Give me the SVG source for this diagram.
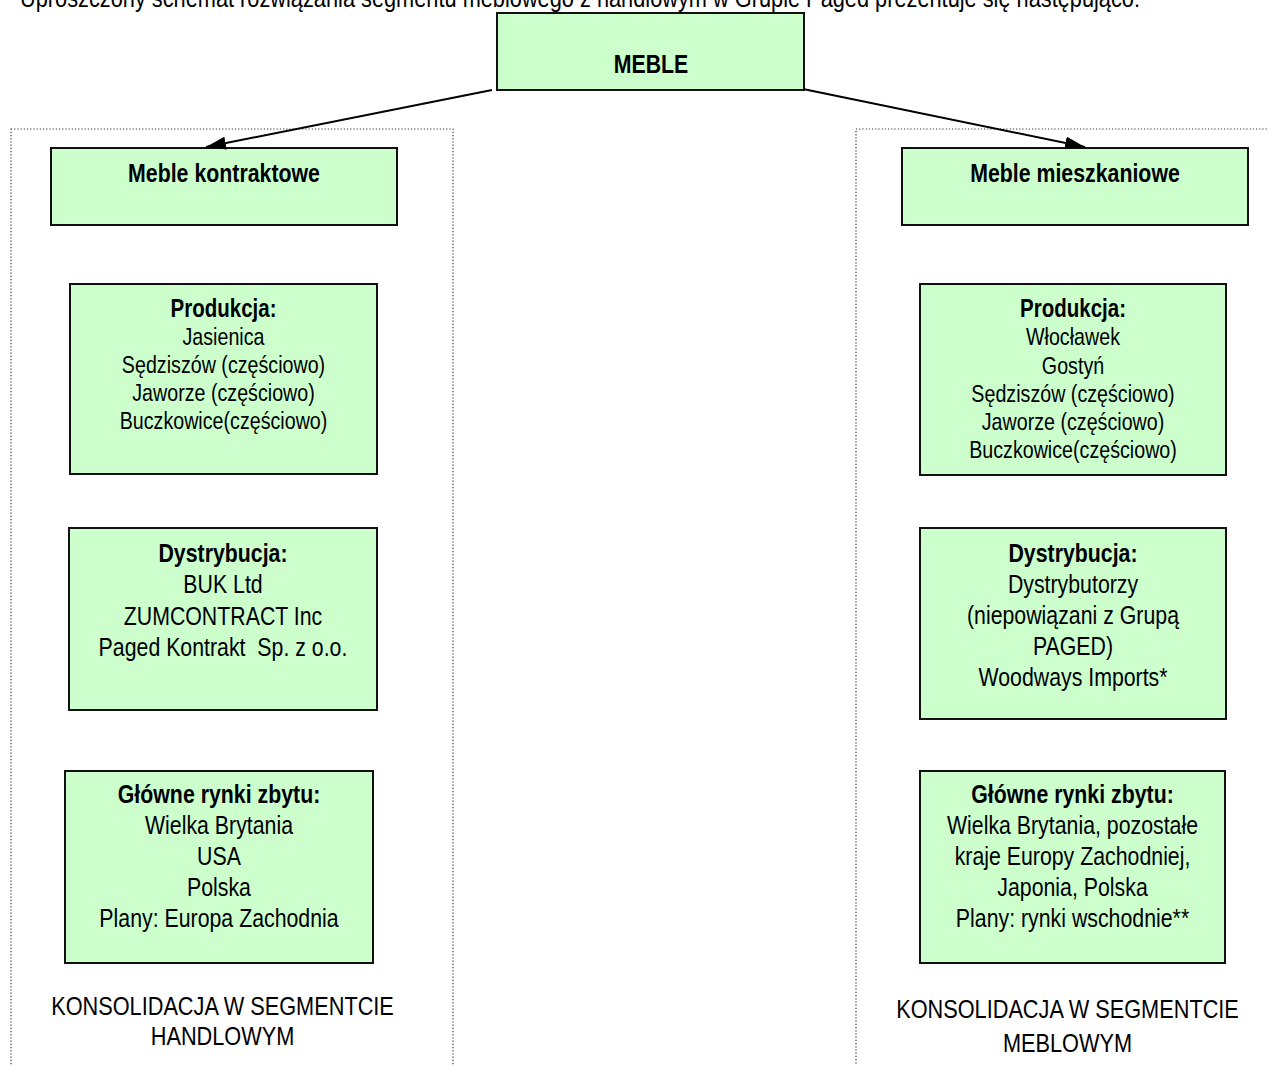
<svg xmlns="http://www.w3.org/2000/svg" width="1268" height="1065" viewBox="0 0 1268 1065">
<style>
text{font-family:"Liberation Sans",Arial,sans-serif;fill:#000;text-anchor:middle}
.b{font-weight:bold}
.box{fill:#ccffcc;stroke:#111;stroke-width:2}
.cont{fill:none;stroke:#333;stroke-width:1.2;stroke-dasharray:1.2 2}
.s24{font-size:24px}
.s26{font-size:26px}
.s265{font-size:26.5px}
.conn{stroke:#000;stroke-width:2;fill:none}
</style>
<defs>
<marker id="ah" viewBox="0 0 20 13" refX="20" refY="6.5" markerWidth="20" markerHeight="13" markerUnits="userSpaceOnUse" orient="auto">
<path d="M0,0 L20,6.5 L0,13 z" fill="#000"/>
</marker>
</defs>
<rect width="1268" height="1065" fill="#fff"/>
<text x="580" y="7" style="font-size:25px" textLength="1120" lengthAdjust="spacingAndGlyphs">Uproszczony schemat rozwiązania segmentu meblowego z handlowym w Grupie Paged prezentuje się następująco:</text>
<g id="container-left"><rect class="cont" x="11" y="129" width="442" height="960"/></g>
<g id="container-right"><rect class="cont" x="856" y="129" width="440" height="960"/></g>
<g id="meble"><rect class="box" x="497" y="13" width="307" height="77"/><text class="b s26" transform="matrix(0.82 0 0 1 651 0)" x="0" y="73">MEBLE</text></g>
<g id="meble-kontraktowe"><rect class="box" x="51" y="148" width="346" height="77"/><text class="b s26" transform="matrix(0.82 0 0 1 224 0)" x="0" y="182">Meble kontraktowe</text></g>
<g id="meble-mieszkaniowe"><rect class="box" x="902" y="148" width="346" height="77"/><text class="b s26" transform="matrix(0.82 0 0 1 1075 0)" x="0" y="182">Meble mieszkaniowe</text></g>
<g id="produkcja-l"><rect class="box" x="70" y="284" width="307" height="190"/>
<text class="s24" transform="matrix(0.82 0 0 1 223.5 0)"><tspan class="b" style="font-size:25px" x="0" y="317">Produkcja:</tspan><tspan x="0" y="345">Jasienica</tspan><tspan x="0" y="373">Sędziszów (częściowo)</tspan><tspan x="0" y="401">Jaworze (częściowo)</tspan><tspan x="0" y="429">Buczkowice(częściowo)</tspan></text></g>
<g id="produkcja-r"><rect class="box" x="920" y="284" width="306" height="191"/>
<text class="s24" transform="matrix(0.82 0 0 1 1073 0)"><tspan class="b" style="font-size:25px" x="0" y="317">Produkcja:</tspan><tspan x="0" y="345.5">Włocławek</tspan><tspan x="0" y="374">Gostyń</tspan><tspan x="0" y="402">Sędziszów (częściowo)</tspan><tspan x="0" y="430">Jaworze (częściowo)</tspan><tspan x="0" y="458">Buczkowice(częściowo)</tspan></text></g>
<g id="dystrybucja-l"><rect class="box" x="69" y="528" width="308" height="182"/>
<text class="s26" transform="matrix(0.82 0 0 1 223 0)"><tspan class="b" x="0" y="562">Dystrybucja:</tspan><tspan x="0" y="593.5">BUK Ltd</tspan><tspan x="0" y="625">ZUMCONTRACT Inc</tspan><tspan x="0" y="656.5" xml:space="preserve">Paged Kontrakt  Sp. z o.o.</tspan></text></g>
<g id="dystrybucja-r"><rect class="box" x="920" y="528" width="306" height="191"/>
<text class="s26" transform="matrix(0.82 0 0 1 1073 0)"><tspan class="b" x="0" y="562">Dystrybucja:</tspan><tspan x="0" y="593">Dystrybutorzy</tspan><tspan x="0" y="624">(niepowiązani z Grupą</tspan><tspan x="0" y="655">PAGED)</tspan><tspan x="0" y="686">Woodways Imports*</tspan></text></g>
<g id="rynki-l"><rect class="box" x="65" y="771" width="308" height="192"/>
<text class="s26" transform="matrix(0.82 0 0 1 219 0)"><tspan class="b" x="0" y="803">Główne rynki zbytu:</tspan><tspan x="0" y="834">Wielka Brytania</tspan><tspan x="0" y="865">USA</tspan><tspan x="0" y="896">Polska</tspan><tspan x="0" y="927">Plany: Europa Zachodnia</tspan></text></g>
<g id="rynki-r"><rect class="box" x="920" y="771" width="305" height="192"/>
<text class="s26" transform="matrix(0.82 0 0 1 1072.5 0)"><tspan class="b" x="0" y="803">Główne rynki zbytu:</tspan><tspan x="0" y="834">Wielka Brytania, pozostałe</tspan><tspan x="0" y="865">kraje Europy Zachodniej,</tspan><tspan x="0" y="896">Japonia, Polska</tspan><tspan x="0" y="927">Plany: rynki wschodnie**</tspan></text></g>
<g id="label-l"><text class="s265" transform="matrix(0.82 0 0 1 222.5 0)"><tspan x="0" y="1015">KONSOLIDACJA W SEGMENTCIE</tspan><tspan x="0" y="1045">HANDLOWYM</tspan></text></g>
<g id="label-r"><text class="s265" transform="matrix(0.82 0 0 1 1067.5 0)"><tspan x="0" y="1018">KONSOLIDACJA W SEGMENTCIE</tspan><tspan x="0" y="1052">MEBLOWYM</tspan></text></g>
<g id="connectors">
<line class="conn" x1="492" y1="90" x2="206" y2="147" marker-end="url(#ah)"/>
<line class="conn" x1="803" y1="89" x2="1085" y2="147" marker-end="url(#ah)"/>
</g>
</svg>
